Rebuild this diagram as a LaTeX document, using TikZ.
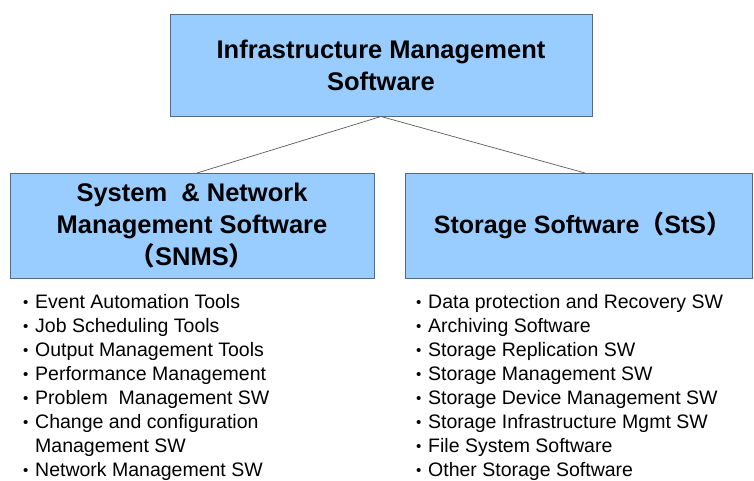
\documentclass[tikz,border=0pt]{standalone}
\usepackage{fontspec}
\setmainfont{Liberation Sans}
\newfontfamily\cjk{Noto Sans CJK SC}
\definecolor{boxfill}{RGB}{153,204,255}
\definecolor{boxline}{RGB}{85,105,135}
\definecolor{conn}{RGB}{90,90,90}
\begin{document}
\begin{tikzpicture}[x=1pt,y=-1pt,
  box/.style={draw=boxline,line width=1pt,fill=boxfill,inner sep=0pt,align=center,
    font=\bfseries\fontsize{25.5}{32}\selectfont},
  listtxt/.style={anchor=north west,inner sep=0pt,align=left,
    font=\fontsize{19.5}{24}\selectfont},
  conline/.style={draw=conn,line width=0.7pt}]
\useasboundingbox (0,0) rectangle (754,480);
\fill[white] (0,0) rectangle (754,480);
\node[box,minimum width=422pt,minimum height=102pt] (top) at (381,65)
  {Infrastructure Management\\Software};
\node[box,minimum width=364pt,minimum height=105pt] (snms) at (192,225.5)
  {System\ \ \& Network\\Management Software\\{\cjk（}SNMS{\cjk）}};
\node[box,minimum width=347pt,minimum height=105pt] (sts) at (578.5,225.5)
  {\hspace*{8pt}{\fontsize{25}{32}\selectfont Storage Software{\cjk（}StS{\cjk）}}};
\coordinate (lend) at (197,173);
\coordinate (rend) at (585,173);
\draw[conline] (top.south) -- (lend);
\draw[conline] (top.south) -- (rend);
\newcommand\bl{\makebox[12pt][l]{\raisebox{0.5pt}{\fontsize{15}{15}\selectfont\textbullet}}}
\node[listtxt] (llist) at (23,294)
  {\bl Event Automation Tools\\
   \bl Job Scheduling Tools\\
   \bl Output Management Tools\\
   \bl Performance Management\\
   \bl Problem\ \ Management SW\\
   \bl Change and configuration\\
   \hspace*{12pt}Management SW\\
   \bl Network Management SW};
\node[listtxt] (rlist) at (416,294)
  {\bl Data protection and Recovery SW\\
   \bl Archiving Software\\
   \bl Storage Replication SW\\
   \bl Storage Management SW\\
   \bl Storage Device Management SW\\
   \bl Storage Infrastructure Mgmt SW\\
   \bl File System Software\\
   \bl Other Storage Software};
\end{tikzpicture}
\end{document}
